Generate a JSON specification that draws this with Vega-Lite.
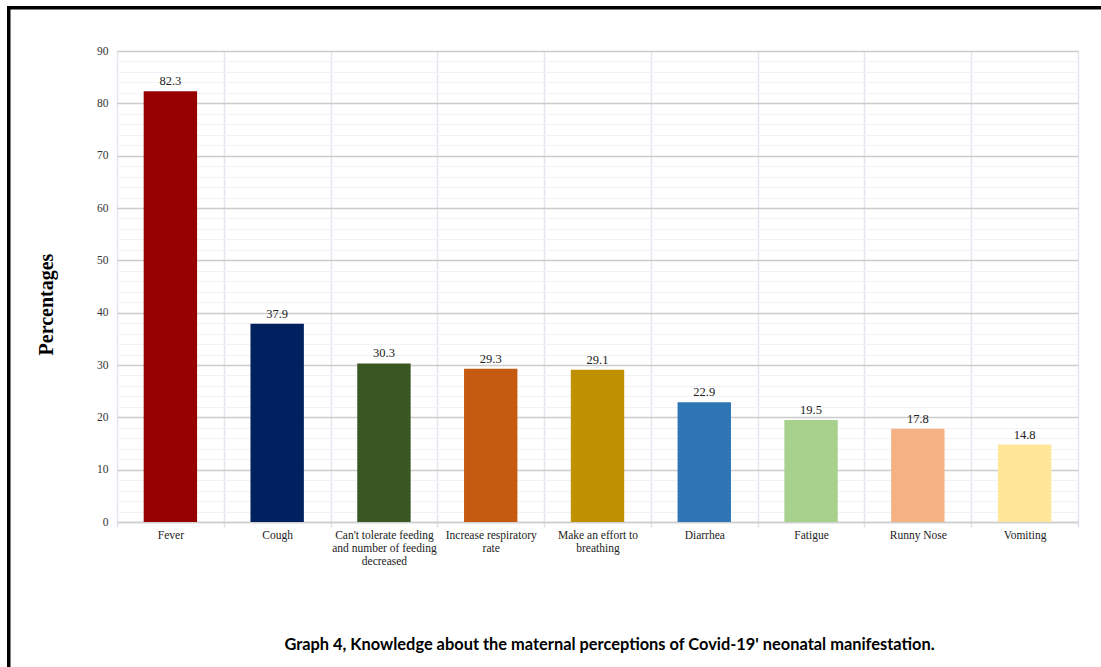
{
  "$schema": "https://vega.github.io/schema/vega-lite/v6.json",
  "autosize": "none",
  "width": 961,
  "height": 471,
  "padding": {"left": 117, "top": 51, "right": 23, "bottom": 145},
  "background": "white",
  "title": {
    "text": "Graph 4, Knowledge about the maternal perceptions of Covid-19' neonatal manifestation.",
    "orient": "bottom",
    "anchor": "middle",
    "frame": "group",
    "offset": -30,
    "dx": 12,
    "font": "Lato",
    "fontSize": 16.4,
    "fontWeight": "bold",
    "color": "#000000"
  },
  "layer": [
    {
      "data": {
        "values": [
          {"symptom": "Fever", "percent": 82.3, "color": "#960000"},
          {"symptom": "Cough", "percent": 37.9, "color": "#002060"},
          {"symptom": "Can't tolerate feeding and number of feeding decreased", "percent": 30.3, "color": "#385723"},
          {"symptom": "Increase respiratory rate", "percent": 29.3, "color": "#c55a11"},
          {"symptom": "Make an effort to breathing", "percent": 29.1, "color": "#bf9000"},
          {"symptom": "Diarrhea", "percent": 22.9, "color": "#2e75b6"},
          {"symptom": "Fatigue", "percent": 19.5, "color": "#a9d18e"},
          {"symptom": "Runny Nose", "percent": 17.8, "color": "#f4b183"},
          {"symptom": "Vomiting", "percent": 14.8, "color": "#ffe699"}
        ]
      },
      "encoding": {
        "x": {
          "field": "symptom",
          "type": "nominal",
          "sort": null,
          "scale": {"paddingInner": 0, "paddingOuter": 0},
          "axis": {
            "title": null,
            "labelAngle": 0,
            "labelFont": "Liberation Serif",
            "labelFontSize": 11.5,
            "labelColor": "#222222",
            "labelPadding": 2,
            "labelLineHeight": 13,
            "labelBaseline": "top",
            "labelExpr": "datum.label == \"Can't tolerate feeding and number of feeding decreased\" ? [\"Can't tolerate feeding\", \"and number of feeding\", \"decreased\"] : datum.label == 'Increase respiratory rate' ? ['Increase respiratory', 'rate'] : datum.label == 'Make an effort to breathing' ? ['Make an effort to', 'breathing'] : datum.label",
            "tickBand": "extent",
            "ticks": true,
            "tickSize": 5,
            "tickColor": "#dde1ea",
            "tickWidth": 1.5,
            "grid": true,
            "gridColor": "#e3e6ee",
            "gridWidth": 1.5,
            "domain": true,
            "domainColor": "#d0d0d0",
            "domainWidth": 1.5
          }
        },
        "y": {
          "field": "percent",
          "type": "quantitative",
          "scale": {"domain": [0, 90], "nice": false},
          "axis": {
            "title": "Percentages",
            "titleFont": "Liberation Serif",
            "titleFontSize": 20,
            "titleFontWeight": "bold",
            "titleColor": "#000000",
            "titleAngle": -90,
            "titleX": -71,
            "titleY": 253,
            "titleAlign": "center",
            "titleBaseline": "middle",
            "values": [0, 2, 4, 6, 8, 10, 12, 14, 16, 18, 20, 22, 24, 26, 28, 30, 32, 34, 36, 38, 40, 42, 44, 46, 48, 50, 52, 54, 56, 58, 60, 62, 64, 66, 68, 70, 72, 74, 76, 78, 80, 82, 84, 86, 88, 90],
            "labelExpr": "datum.value % 10 === 0 ? datum.label : ''",
            "labelOverlap": false,
            "labelFont": "Liberation Serif",
            "labelFontSize": 11.5,
            "labelColor": "#333333",
            "labelPadding": 9,
            "ticks": false,
            "domain": false,
            "grid": true,
            "gridColor": {"condition": {"test": "datum.value % 10 === 0", "value": "#cccccc"}, "value": "#f1f2f5"},
            "gridWidth": {"condition": {"test": "datum.value % 10 === 0", "value": 1.6}, "value": 1.2}
          }
        }
      },
      "layer": [
        {
          "mark": {"type": "bar", "width": {"band": 0.5}},
          "encoding": {
            "color": {"field": "color", "type": "nominal", "scale": null, "legend": null}
          }
        },
        {
          "mark": {
            "type": "text",
            "baseline": "alphabetic",
            "dy": -6,
            "font": "Liberation Serif",
            "fontSize": 12.5,
            "color": "#222222"
          },
          "encoding": {
            "text": {"field": "percent", "type": "quantitative", "format": ".1f"}
          }
        }
      ]
    },
    {
      "data": {"values": [{"edge": "top"}]},
      "mark": {
        "type": "rect",
        "x": -110,
        "x2": 984,
        "y": -45,
        "y2": -41.5,
        "fill": "#000000",
        "clip": false
      },
      "encoding": {}
    },
    {
      "data": {"values": [{"edge": "left"}]},
      "mark": {
        "type": "rect",
        "x": -110,
        "x2": -106.5,
        "y": -45,
        "y2": 616,
        "fill": "#000000",
        "clip": false
      },
      "encoding": {}
    }
  ]
}
